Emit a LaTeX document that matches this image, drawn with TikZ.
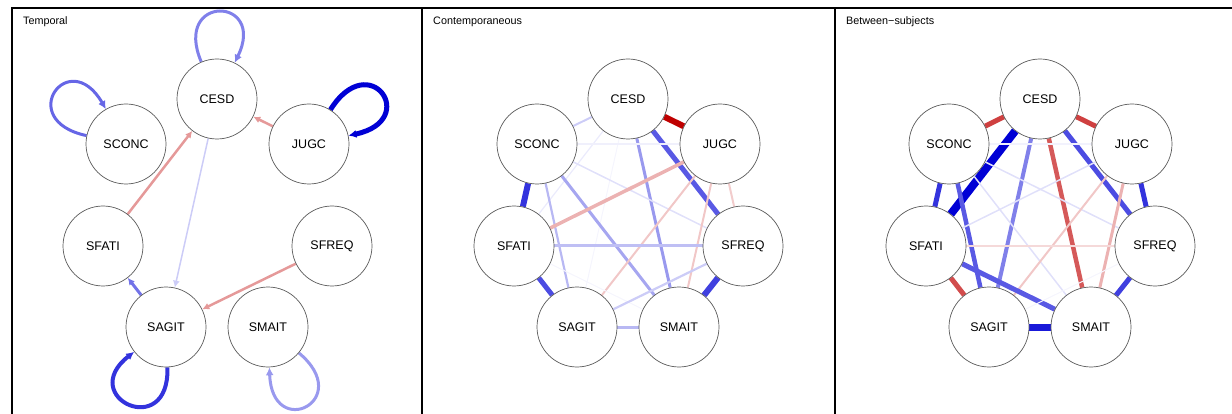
\documentclass[tikz,border=0pt]{standalone}
\usepackage{fontspec}
\setmainfont{Liberation Sans}
\usepackage{tikz}
\usetikzlibrary{arrows.meta,backgrounds}
\definecolor{qblue}{HTML}{0000D5}
\definecolor{qred}{HTML}{BF0000}

\begin{document}
\begin{tikzpicture}
 		[x=1pt, y=-1pt,
 		var/.style={circle, draw=black!65, line width=0.7pt, fill=white,
 			minimum size=80pt, inner sep=0pt, font=\fontsize{12.5}{14}\selectfont},
 		title/.style={anchor=west, inner sep=0pt, font=\fontsize{10.8}{12}\selectfont},
 		frame/.style={draw=black, line width=1.4pt},
 		arr/.style={-{Latex[length=7pt,width=7pt]}},
 		loopy/.style={-{Latex[length=8pt,width=8pt]}, distance=74pt},
 		]
 		\useasboundingbox (0,0) rectangle (1232,414);
 		% panel frames
 		\draw[frame] (12,414) -- (12,8) -- (1232,8);
 		\draw[frame, line width=2pt] (422,8) -- (422,414);
 		\draw[frame, line width=2pt] (835,8) -- (835,414);
 		\node[title] (ttl-t) at (23,22) {Temporal};
 		\node[title] (ttl-c) at (433,22) {Contemporaneous};
 		\node[title] (ttl-b) at (846,22) {Between−subjects};
 		
 		% same layout in each panel
 		\foreach \p/\x in {t/12, c/423, b/835}{
 			\foreach \n/\dx/\y in {CESD/205/99, SCONC/114/144, JUGC/297/144,
 				SFATI/91/246, SFREQ/320/246, SAGIT/154/327, SMAIT/256/327}
 				\node[var] (\p-\n) at (\x+\dx,\y) {\n};
 		}
 		
 		\begin{scope}[on background layer]
 		% temporal
 		\draw[arr, draw=qred!40, line width=2.5pt] (t-JUGC) -- (t-CESD);
 		\draw[arr, draw=qred!40, line width=2.5pt] (t-SFATI) -- (t-CESD);
 		\draw[arr, draw=qred!40, line width=2.5pt] (t-SFREQ) -- (t-SAGIT);
 		\draw[arr, draw=qblue!20, line width=1.5pt] (t-CESD) -- (t-SAGIT);
 		\draw[arr, draw=qblue!55, line width=3pt] (t-SAGIT) -- (t-SFATI);
 		\draw[loopy, draw=qblue!50, line width=3pt] (t-CESD) to[out=113, in=64] (t-CESD);
 		\draw[loopy, draw=qblue!60, line width=3pt] (t-SCONC) to[out=168, in=120] (t-SCONC);
 		\draw[loopy, draw=qblue!100, line width=5pt] (t-JUGC) to[out=58, in=12] (t-JUGC);
 		\draw[loopy, draw=qblue!80, line width=4pt] (t-SAGIT) to[out=272, in=218] (t-SAGIT);
 		\draw[loopy, draw=qblue!40, line width=3pt] (t-SMAIT) to[out=320, in=272] (t-SMAIT);
 		
 		% contemporaneous
 		\foreach \a/\b/\c/\w in {CESD/JUGC/qred!100/6, CESD/SFREQ/qblue!65/5,
 			CESD/SCONC/qblue!20/2, CESD/SMAIT/qblue!40/3, CESD/SFATI/qblue!8/1.2,
 			CESD/SAGIT/qblue!4/1, SCONC/SFATI/qblue!80/6, SCONC/SAGIT/qblue!28/2.2,
 			SCONC/SMAIT/qblue!35/3, SCONC/SFREQ/qblue!12/1.5, SCONC/JUGC/qblue!6/1.5,
 			JUGC/SFATI/qred!30/3.5, JUGC/SAGIT/qred!22/2, JUGC/SMAIT/qred!22/2,
 			JUGC/SFREQ/qred!20/2, SFATI/SFREQ/qblue!25/3, SFATI/SAGIT/qblue!70/5,
 			SFATI/SMAIT/qblue!4/1, SFREQ/SMAIT/qblue!75/6, SFREQ/SAGIT/qblue!20/2.2,
 			SAGIT/SMAIT/qblue!28/3}
 			\draw[draw=\c, line width=\w pt] (c-\a) -- (c-\b);
 		
 		% between-subjects
 		\foreach \a/\b/\c/\w in {CESD/SCONC/qred!75/5, CESD/JUGC/qred!75/5,
 			CESD/SFATI/qblue!100/8, CESD/SAGIT/qblue!50/4, CESD/SMAIT/qred!65/4.5,
 			CESD/SFREQ/qblue!70/5, SCONC/SFATI/qblue!80/5, SCONC/SAGIT/qblue!65/4.5,
 			SCONC/SMAIT/qblue!12/1.5, SCONC/JUGC/qblue!5/1.2, SCONC/SFREQ/qblue!12/1.5,
 			JUGC/SFATI/qblue!12/1.5, JUGC/SFREQ/qblue!80/5, JUGC/SAGIT/qred!22/2,
 			JUGC/SMAIT/qred!30/3, SFATI/SFREQ/qred!15/2, SFATI/SAGIT/qred!70/5,
 			SFATI/SMAIT/qblue!65/5, SFREQ/SMAIT/qblue!75/5, SFREQ/SAGIT/qblue!4/1,
 			SAGIT/SMAIT/qblue!90/7}
 			\draw[draw=\c, line width=\w pt] (b-\a) -- (b-\b);
 		\end{scope}
 	\end{tikzpicture}
\end{document}
